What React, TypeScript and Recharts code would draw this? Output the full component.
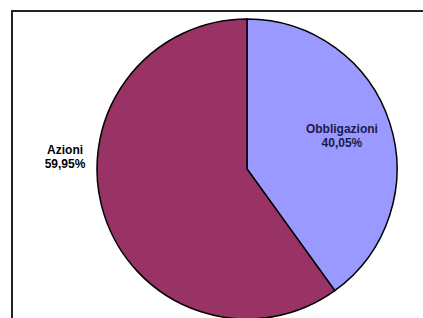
import { PieChart, Pie, Cell } from 'recharts'

const categories = ['Obbligazioni', 'Azioni']
const values = [40.05, 59.95]
const labels = ['40,05%', '59,95%']
const colors = ['#9999FF', '#993366']

const data = categories.map((name, i) => ({ name, value: values[i], pct: labels[i] }))

// label placement, in multiples of the radius (Excel "best fit" style)
const labelSpots: Record<string, { dx: number; dy: number; fill: string }> = {
  Obbligazioni: { dx: 0.633, dy: -0.24, fill: '#1a1a4a' },
  Azioni: { dx: -1.213, dy: -0.1, fill: '#000' },
}

function renderLabel(props: any) {
  const { cx, cy, outerRadius, name, payload } = props
  const spot = labelSpots[name]
  const x = cx + spot.dx * outerRadius
  const y = cy + spot.dy * outerRadius
  return (
    <text
      x={x}
      y={y}
      textAnchor="middle"
      fill={spot.fill}
      style={{ fontFamily: 'Liberation Sans, Arial, sans-serif', fontSize: 12, fontWeight: 'bold' }}
    >
      <tspan x={x} y={y}>{name}</tspan>
      <tspan x={x} y={y + 14}>{payload.pct}</tspan>
    </text>
  )
}

const frameColor = '#222'

export default function App() {
  return (
    <div style={{ position: 'fixed', left: 0, top: 0, width: 423, height: 318, overflow: 'hidden', background: '#fff' }}>
      {/* chart-area frame: only top and left edges are visible in the crop */}
      <div style={{ position: 'absolute', left: 11, top: 10, width: 412, height: 2, background: frameColor }} />
      <div style={{ position: 'absolute', left: 11, top: 10, width: 2, height: 308, background: frameColor }} />
      <div style={{ position: 'absolute', left: 0, top: 0, width: 423, height: 318 }}>
        <PieChart width={423} height={318} margin={{ top: 0, right: 0, bottom: 0, left: 0 }}>
          <Pie
            data={data}
            dataKey="value"
            nameKey="name"
            cx={247}
            cy={169}
            outerRadius={150}
            startAngle={90}
            endAngle={-270}
            stroke="#000"
            strokeWidth={1.5}
            label={renderLabel}
            labelLine={false}
            isAnimationActive={false}
          >
            {data.map((d, i) => (
              <Cell key={d.name} fill={colors[i]} />
            ))}
          </Pie>
        </PieChart>
      </div>
    </div>
  )
}
